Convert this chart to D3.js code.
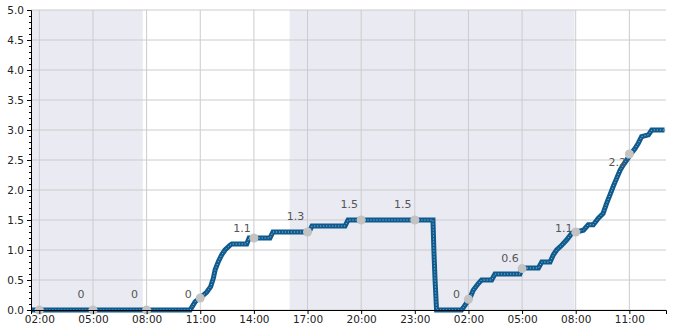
<!DOCTYPE html>
<html>
<head>
<meta charset="utf-8">
<script src="https://d3js.org/d3.v7.min.js"></script>
<style>
  body { margin: 0; background: #fff; }
  svg { display: block; font-family: "DejaVu Sans", sans-serif; }
</style>
</head>
<body>
<svg id="chart" width="685" height="330"></svg>
<script>
// series: timestamp, value
var times = ["01-01 01:33", "01-01 10:26", "01-01 10:43", "01-01 11:02", "01-01 11:22", "01-01 11:35",
  "01-01 11:44", "01-01 11:50", "01-01 12:01", "01-01 12:12", "01-01 12:23", "01-01 12:40", "01-01 12:46",
  "01-01 13:36", "01-01 13:44", "01-01 14:54", "01-01 15:04", "01-01 17:05", "01-01 17:15", "01-01 19:06",
  "01-01 19:16", "01-02 00:01", "01-02 00:04", "01-02 00:08", "01-02 00:13", "01-02 01:37", "01-02 01:43",
  "01-02 02:05", "01-02 02:16", "01-02 02:33", "01-02 02:44", "01-02 03:18", "01-02 03:29", "01-02 04:53",
  "01-02 05:00", "01-02 05:55", "01-02 06:06", "01-02 06:34", "01-02 06:45", "01-02 06:56", "01-02 07:13",
  "01-02 07:30", "01-02 07:47", "01-02 08:01", "01-02 08:26", "01-02 08:42", "01-02 08:59", "01-02 09:16",
  "01-02 09:32", "01-02 09:44", "01-02 09:55", "01-02 10:06", "01-02 10:17", "01-02 10:29", "01-02 10:40",
  "01-02 10:51", "01-02 11:05", "01-02 11:19", "01-02 11:30", "01-02 11:41", "01-02 12:04", "01-02 12:15",
  "01-02 12:58"];
var values = [0, 0, 0.14, 0.21, 0.3, 0.39,
  0.53, 0.67, 0.81, 0.92, 1.0, 1.08, 1.1,
  1.1, 1.2, 1.2, 1.3, 1.3, 1.4, 1.4,
  1.5, 1.5, 1.0, 0.5, 0, 0, 0.04,
  0.2, 0.33, 0.44, 0.5, 0.5, 0.6, 0.6,
  0.7, 0.7, 0.8, 0.8, 0.92, 1.0, 1.08,
  1.17, 1.28, 1.3, 1.33, 1.42, 1.42, 1.53,
  1.61, 1.78, 1.92, 2.06, 2.19, 2.33, 2.42,
  2.5, 2.6, 2.69, 2.78, 2.89, 2.92, 3.0,
  3.0];

// marker every 3 hours, with its annotation
var markTimes = ["01-01 02:00", "01-01 05:00", "01-01 08:00", "01-01 11:00", "01-01 14:00", "01-01 17:00",
  "01-01 20:00", "01-01 23:00", "01-02 02:00", "01-02 05:00", "01-02 08:00", "01-02 11:00"];
var markValues = [0, 0, 0, 0.2, 1.2, 1.3, 1.5, 1.5, 0.18, 0.69, 1.3, 2.6];
var markLabels = [null, 0, 0, 0, 1.1, 1.3, 1.5, 1.5, 0, 0.6, 1.1, 2.2];

// shaded spans
var shadeStart = ["01-01 01:32", "01-01 16:00"];
var shadeEnd = ["01-01 07:47", "01-02 07:56"];

var domainStart = "01-01 01:32", domainEnd = "01-02 13:03";
var yTicks = [0, 0.5, 1, 1.5, 2, 2.5, 3, 3.5, 4, 4.5, 5];

var parse = d3.timeParse("%Y-%m-%d %H:%M");
function t(s) { return parse("2024-" + s); }

var data = times.map(function(s, i) { return {t: t(s), v: values[i]}; });
var marks = markTimes.map(function(s, i) { return {t: t(s), v: markValues[i], label: markLabels[i]}; });

var margin = {top: 10, right: 19, bottom: 20, left: 31},
    width = 685 - margin.left - margin.right,
    height = 330 - margin.top - margin.bottom;

var svg = d3.select("#chart");
var g = svg.append("g").attr("transform", "translate(" + margin.left + "," + margin.top + ")");

var x = d3.scaleTime().domain([t(domainStart), t(domainEnd)]).range([0, width]);
var y = d3.scaleLinear().domain([0, 5]).range([height, 0]);

// shading
g.selectAll(".shade").data(shadeStart).enter().append("rect")
  .attr("class", "shade")
  .attr("x", function(d) { return x(t(d)); })
  .attr("width", function(d, i) { return x(t(shadeEnd[i])) - x(t(d)); })
  .attr("y", 0)
  .attr("height", height)
  .style("fill", "#eaeaf2");

var xTicks = d3.timeHour.range(t("01-01 02:00"), t(domainEnd), 3);

// grid
g.selectAll(".hgrid").data(yTicks).enter().append("line")
  .attr("x1", 0).attr("x2", width)
  .attr("y1", function(d) { return y(d); }).attr("y2", function(d) { return y(d); })
  .style("stroke", "#cccccc").style("stroke-width", 1);
g.selectAll(".vgrid").data(xTicks).enter().append("line")
  .attr("x1", function(d) { return x(d); }).attr("x2", function(d) { return x(d); })
  .attr("y1", 0).attr("y2", height)
  .style("stroke", "#cccccc").style("stroke-width", 1);

// series
var line = d3.line().x(function(d) { return x(d.t); }).y(function(d) { return y(d.v); });
g.append("path").datum(data).attr("d", line)
  .style("fill", "none").style("stroke", "#0f5a8c").style("stroke-width", 5)
  .style("stroke-linejoin", "miter");
g.append("path").datum(data).attr("d", line)
  .style("fill", "none").style("stroke", "#a9c8e2").style("stroke-width", 1)
  .style("stroke-dasharray", "1,2");

// markers
g.selectAll(".mark").data(marks).enter().append("circle")
  .attr("cx", function(d) { return x(d.t); })
  .attr("cy", function(d) { return y(d.v); })
  .attr("r", 4.5)
  .style("fill", "#c3c3c3");

g.selectAll(".lab").data(marks.filter(function(d) { return d.label !== null; })).enter().append("text")
  .attr("x", function(d) { return x(d.t) - 12; })
  .attr("y", function(d) { return y(d.label) - 12; })
  .attr("text-anchor", "middle")
  .style("font-size", "11px")
  .style("fill", "#555555")
  .text(function(d) { return d.label; });

// axes
var xAxis = g.append("g").attr("transform", "translate(0," + height + ")")
  .call(d3.axisBottom(x).tickValues(xTicks).tickFormat(d3.timeFormat("%H:%M")).tickSizeOuter(0).tickSize(4).tickPadding(2));
var yAxis = g.append("g")
  .call(d3.axisLeft(y).tickValues(yTicks).tickFormat(d3.format(".1f")).tickSizeOuter(0).tickSize(4).tickPadding(3));
g.append("g")
  .call(d3.axisLeft(y).tickValues(d3.range(0, 51).map(function(i) { return i / 10; }).filter(function(d, i) { return i % 5; }))
    .tickFormat("").tickSizeOuter(0).tickSize(2))
  .select(".domain").remove();

[xAxis, yAxis].forEach(function(a) {
  a.selectAll("text").style("font-family", "DejaVu Sans").style("font-size", "10.5px").style("fill", "#222");
  a.select(".domain").style("stroke", "#000");
});
</script>
</body>
</html>
